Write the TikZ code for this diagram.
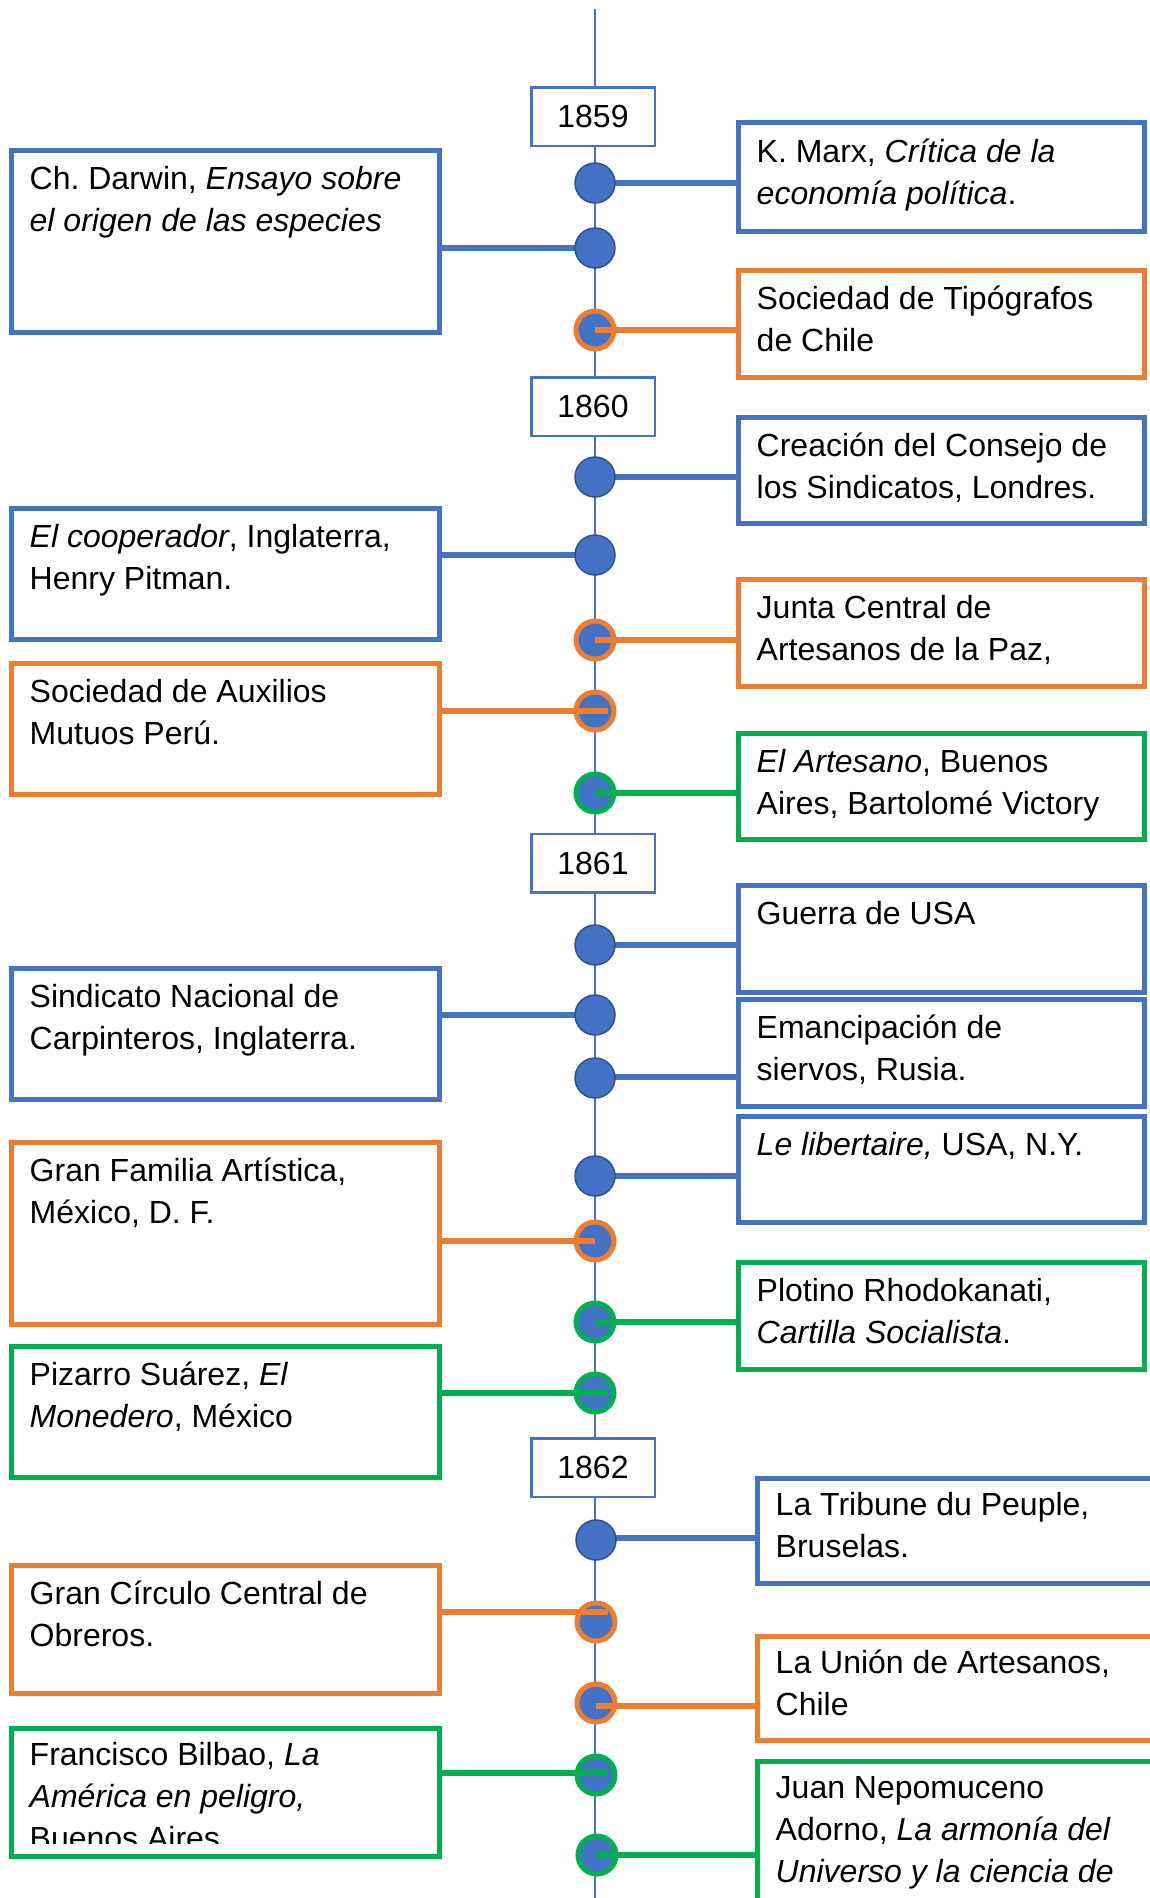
\documentclass[tikz,border=0pt]{standalone}
\usepackage{fontspec}
\setmainfont{Liberation Sans}
\frenchspacing
\definecolor{cblue}{HTML}{4472C4}
\definecolor{corange}{HTML}{ED7D31}
\definecolor{cgreen}{HTML}{00B050}
\definecolor{cdark}{HTML}{2F528F}
\newcommand\boxtext[1]{\parbox[t]{420pt}{\raggedright #1}}
\tikzset{
  evbox/.style={rectangle, line width=5pt, fill=white, inner sep=0pt, anchor=north west},
  boxb/.style={evbox, draw=cblue},
  boxo/.style={evbox, draw=corange},
  boxg/.style={evbox, draw=cgreen},
  lw/.style={minimum width=428pt},
  rw/.style={minimum width=406pt},
  rw2/.style={minimum width=420pt},
  txt/.style={inner sep=0pt, anchor=base west, font=\fontsize{32}{42}\selectfont},
  yr/.style={rectangle, draw=cblue, line width=2.5pt, fill=white, minimum width=123.5pt, minimum height=58.5pt, inner sep=0pt, font=\fontsize{32}{42}\selectfont},
  dotb/.style={circle, fill=cblue, draw=cdark, line width=1.5pt, minimum size=40pt, inner sep=0pt},
  doto/.style={circle, fill=cblue, draw=corange, line width=5pt, minimum size=38pt, inner sep=0pt},
  dotg/.style={circle, fill=cblue, draw=cgreen, line width=5pt, minimum size=38pt, inner sep=0pt},
  connb/.style={draw=cblue, line width=5.5pt},
  conno/.style={draw=corange, line width=5.5pt},
  conng/.style={draw=cgreen, line width=5.5pt},
  tline/.style={draw=cblue, line width=1.5pt}
}
\begin{document}
\begin{tikzpicture}[x=1pt, y=-1pt]
\useasboundingbox (0,0) rectangle (1150,1898);
% timeline
\coordinate (tltop) at (595,9);
\coordinate (tlbot) at (595,1910);
\draw[tline] (tltop) -- (tlbot);
% year boxes
\node[yr] (y1859) at (593,116.5) {1859};
\node[yr] (y1860) at (593,406.5) {1860};
\node[yr] (y1861) at (593,863) {1861};
\node[yr] (y1862) at (593,1467.5) {1862};
% left boxes
\node[boxb, lw, minimum height=182pt] (darwin) at (8.5,147.5) {};
\node[boxb, lw, minimum height=131pt] (coop) at (8.5,505.5) {};
\node[boxo, lw, minimum height=131pt] (aux) at (8.5,660.5) {};
\node[boxb, lw, minimum height=131pt] (carp) at (8.5,965.5) {};
\node[boxo, lw, minimum height=182pt] (gfam) at (8.5,1139.5) {};
\node[boxg, lw, minimum height=131pt] (piz) at (8.5,1343.5) {};
\node[boxo, lw, minimum height=128pt] (gcirc) at (8.5,1562.5) {};
\node[boxg, lw, minimum height=128pt] (bilbao) at (8.5,1725.5) {};
% right boxes
\node[boxb, rw, minimum height=109pt] (marx) at (735.5,119.5) {};
\node[boxo, rw, minimum height=107pt] (tipo) at (735.5,267.5) {};
\node[boxb, rw, minimum height=106pt] (consejo) at (735.5,414.5) {};
\node[boxo, rw, minimum height=107pt] (junta) at (735.5,576.5) {};
\node[boxg, rw, minimum height=106pt] (artes) at (735.5,730.5) {};
\node[boxb, rw, minimum height=107pt] (guerra) at (735.5,882.5) {};
\node[boxb, rw, minimum height=107pt] (eman) at (735.5,996.5) {};
\node[boxb, rw, minimum height=106pt] (liber) at (735.5,1113.5) {};
\node[boxg, rw, minimum height=107pt] (plot) at (735.5,1259.5) {};
\node[boxb, rw2, minimum height=105pt] (trib) at (754.5,1475.5) {};
\node[boxo, rw2, minimum height=104pt] (union) at (754.5,1633.5) {};
\node[boxg, rw2, minimum height=200pt] (juan) at (754.5,1758.5) {};
% circle centres
\coordinate (p1) at (595,183);
\coordinate (p2) at (595,248);
\coordinate (p3) at (595,330);
\coordinate (p4) at (595,477);
\coordinate (p5) at (595,555);
\coordinate (p6) at (595,640);
\coordinate (p7) at (595,711);
\coordinate (p8) at (595,793);
\coordinate (p9) at (595,945);
\coordinate (p10) at (595,1015);
\coordinate (p11) at (595,1078);
\coordinate (p12) at (595,1176);
\coordinate (p13) at (595,1241);
\coordinate (p14) at (595,1322);
\coordinate (p15) at (595,1393);
\coordinate (p16) at (596,1540);
\coordinate (p17) at (596,1622);
\coordinate (p18) at (596,1703);
\coordinate (p19) at (596,1775);
\coordinate (p20) at (597,1855);
% connector end points off the circle centres
\coordinate (q7) at (608,711);
\coordinate (q11) at (595,1077);
\coordinate (q15) at (608,1393);
\coordinate (q16) at (596,1538);
\coordinate (q17) at (608,1612);
\coordinate (q18) at (596,1706);
\coordinate (q19) at (608,1773);
% blue connectors
\draw[connb] (p1) -- (p1 -| marx.west);
\draw[connb] (darwin.east |- p2) -- (p2);
\draw[connb] (p4) -- (p4 -| consejo.west);
\draw[connb] (coop.east |- p5) -- (p5);
\draw[connb] (p9) -- (p9 -| guerra.west);
\draw[connb] (carp.east |- p10) -- (p10);
\draw[connb] (q11) -- (q11 -| eman.west);
\draw[connb] (p12) -- (p12 -| liber.west);
\draw[connb] (q16) -- (q16 -| trib.west);
% circles
\node[dotb] (c1) at (p1) {};
\node[dotb] (c2) at (p2) {};
\node[doto] (c3) at (p3) {};
\node[dotb] (c4) at (p4) {};
\node[dotb] (c5) at (p5) {};
\node[doto] (c6) at (p6) {};
\node[doto] (c7) at (p7) {};
\node[dotg] (c8) at (p8) {};
\node[dotb] (c9) at (p9) {};
\node[dotb] (c10) at (p10) {};
\node[dotb] (c11) at (p11) {};
\node[dotb] (c12) at (p12) {};
\node[doto] (c13) at (p13) {};
\node[dotg] (c14) at (p14) {};
\node[dotg] (c15) at (p15) {};
\node[dotb] (c16) at (p16) {};
\node[doto] (c17) at (p17) {};
\node[doto] (c18) at (p18) {};
\node[dotg] (c19) at (p19) {};
\node[dotg] (c20) at (p20) {};
% orange / green connectors
\draw[conno] (c3.center) -- (c3.center -| tipo.west);
\draw[conno] (c6.center) -- (c6.center -| junta.west);
\draw[conno] (aux.east |- q7) -- (q7);
\draw[conng] (c8.center) -- (c8.center -| artes.west);
\draw[conno] (gfam.east |- c13.center) -- (c13.center);
\draw[conng] (c14.center) -- (c14.center -| plot.west);
\draw[conng] (piz.east |- q15) -- (q15);
\draw[conno] (gcirc.east |- q17) -- (q17);
\draw[conno] (q18) -- (q18 -| union.west);
\draw[conng] (bilbao.east |- q19) -- (q19);
\draw[conng] (c20.center) -- (c20.center -| juan.west);
% texts, left
\node[txt] (tdarwin) at ([xshift=21,yshift=-41.5]darwin.north west) {\boxtext{Ch. Darwin, \textit{Ensayo sobre}\\\textit{el origen de las especies}}};
\node[txt] (tcoop) at ([xshift=21,yshift=-41.5]coop.north west) {\boxtext{\textit{El cooperador}, Inglaterra,\\Henry Pitman.}};
\node[txt] (taux) at ([xshift=21,yshift=-41.5]aux.north west) {\boxtext{Sociedad de Auxilios\\Mutuos Perú.}};
\node[txt] (tcarp) at ([xshift=21,yshift=-41.5]carp.north west) {\boxtext{Sindicato Nacional de\\Carpinteros, Inglaterra.}};
\node[txt] (tgfam) at ([xshift=21,yshift=-41.5]gfam.north west) {\boxtext{Gran Familia Artística,\\México, D. F.}};
\node[txt] (tpiz) at ([xshift=21,yshift=-41.5]piz.north west) {\boxtext{Pizarro Suárez, \textit{El}\\\textit{Monedero}, México}};
\node[txt] (tgcirc) at ([xshift=21,yshift=-41.5]gcirc.north west) {\boxtext{Gran Círculo Central de\\Obreros.}};
\begin{scope}
\clip (0,1700) rectangle (450,1843);
\node[txt] (tbilbao) at ([xshift=21,yshift=-39.5]bilbao.north west) {\boxtext{Francisco Bilbao, \textit{La}\\\textit{América en peligro,}\\Buenos Aires}};
\end{scope}
% texts, right
\node[txt] (tmarx) at ([xshift=21,yshift=-43]marx.north west) {\boxtext{K. Marx, \textit{Crítica de la}\\\textit{economía política}.}};
\node[txt] (ttipo) at ([xshift=21,yshift=-41.5]tipo.north west) {\boxtext{Sociedad de Tipógrafos\\de Chile}};
\node[txt] (tconsejo) at ([xshift=21,yshift=-41.5]consejo.north west) {\boxtext{Creación del Consejo de\\los Sindicatos, Londres.}};
\node[txt] (tjunta) at ([xshift=21,yshift=-41.5]junta.north west) {\boxtext{Junta Central de\\Artesanos de la Paz,}};
\node[txt] (tartes) at ([xshift=21,yshift=-41.5]artes.north west) {\boxtext{\textit{El Artesano}, Buenos\\Aires, Bartolomé Victory}};
\node[txt] (tguerra) at ([xshift=21,yshift=-41.5]guerra.north west) {\boxtext{Guerra de USA}};
\node[txt] (teman) at ([xshift=21,yshift=-41.5]eman.north west) {\boxtext{Emancipación de\\siervos, Rusia.}};
\node[txt] (tliber) at ([xshift=21,yshift=-41.5]liber.north west) {\boxtext{\textit{Le libertaire,} USA, N.Y.}};
\node[txt] (tplot) at ([xshift=21,yshift=-41.5]plot.north west) {\boxtext{Plotino Rhodokanati,\\\textit{Cartilla Socialista}.}};
\node[txt] (ttrib) at ([xshift=21,yshift=-39.5]trib.north west) {\boxtext{La Tribune du Peuple,\\Bruselas.}};
\node[txt] (tunion) at ([xshift=21,yshift=-39.5]union.north west) {\boxtext{La Unión de Artesanos,\\Chile}};
\node[txt] (tjuan) at ([xshift=21,yshift=-39.5]juan.north west) {\boxtext{Juan Nepomuceno\\Adorno, \textit{La armonía del}\\\textit{Universo y la ciencia de}}};
\end{tikzpicture}
\end{document}
